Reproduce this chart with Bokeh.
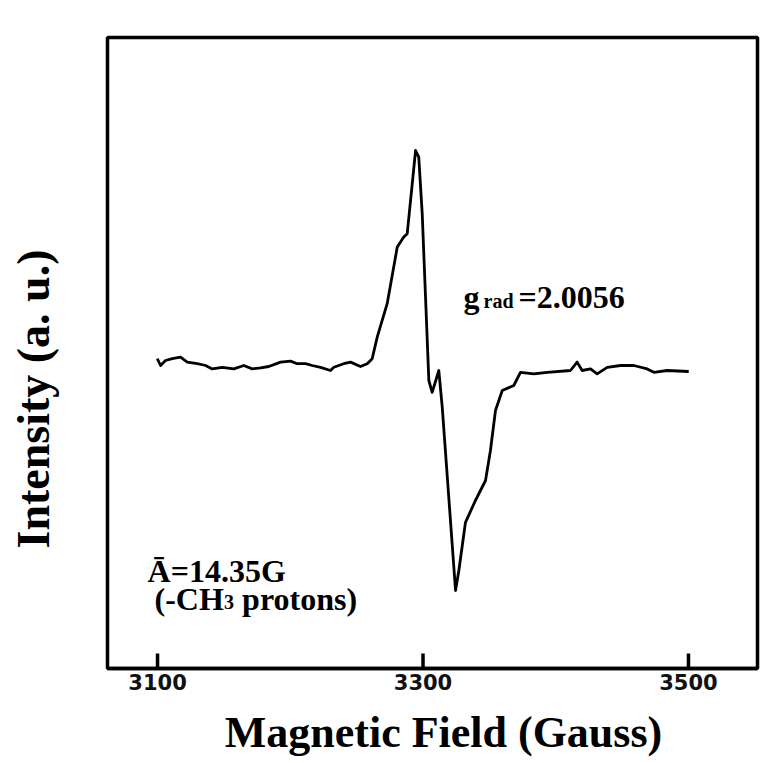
from bokeh.plotting import figure
from bokeh.models import Label, FixedTicker, Range1d, ColumnDataSource
from bokeh.embed import file_html
from bokeh.resources import INLINE

# ---- data ----
field_gauss = [3099.8, 3102.3, 3106.0, 3111.1, 3117.3, 3122.4, 3129.9, 3136.2, 3141.2, 3148.7,
               3157.5, 3165.0, 3171.3, 3177.6, 3183.8, 3192.7, 3200.2, 3205.2, 3211.5, 3216.5,
               3222.8, 3230.3, 3232.8, 3240.3, 3245.4, 3252.9, 3258.0, 3261.7, 3265.5, 3273.0,
               3280.6, 3285.5, 3288.1, 3291.9, 3294.4, 3296.8, 3299.4, 3301.9, 3304.4, 3306.9,
               3311.9, 3314.5, 3324.5, 3327.0, 3332.0, 3339.5, 3347.1, 3350.8, 3354.6, 3359.7,
               3368.4, 3373.4, 3383.5, 3393.6, 3411.1, 3416.1, 3419.9, 3426.2, 3431.2, 3438.8,
               3448.8, 3458.8, 3468.9, 3473.9, 3484.0, 3500.2]
intensity = [0.034, 0.000, 0.025, 0.034, 0.042, 0.017, 0.009, 0.000, -0.017, -0.009,
             -0.017, 0.000, -0.017, -0.012, -0.005, 0.017, 0.022, 0.009, 0.009, 0.000,
             -0.009, -0.025, -0.009, 0.009, 0.017, -0.005, 0.009, 0.034, 0.142, 0.309,
             0.592, 0.642, 0.659, 0.909, 1.075, 1.042, 0.759, 0.342, -0.075, -0.134,
             -0.025, -0.209, -1.125, -1.025, -0.784, -0.675, -0.575, -0.425, -0.225, -0.125,
             -0.100, -0.034, -0.042, -0.034, -0.025, 0.017, -0.025, -0.017, -0.042, -0.009,
             0.000, 0.000, -0.017, -0.034, -0.025, -0.030]
tick_values = [3100, 3300, 3500]
x_label = "Magnetic Field (Gauss)"
y_label = "Intensity (a. u.)"

SERIF = "Liberation Serif"
NBSP = "\u00a0"

x_rng = Range1d(3062.3, 3552.0)
y_rng = Range1d(-1.515, 1.64)
FRAME_H_PX = 631          # frame height in pixels (763 - 37 - 95)
TICK_PX = 15              # inward tick length in pixels

p = figure(width=781, height=763, output_backend="svg", toolbar_location=None,
           x_range=x_rng, y_range=y_rng,
           min_border_left=107, min_border_right=24, min_border_top=37, min_border_bottom=95,
           background_fill_color="white", border_fill_color="white")

p.outline_line_color = "black"
p.outline_line_width = 3.5
p.xgrid.visible = False
p.ygrid.visible = False

# x axis: tick labels below, serif bold title
ax = p.xaxis[0]
ax.ticker = FixedTicker(ticks=tick_values)
ax.axis_line_color = "black"
ax.axis_line_width = 3.5
ax.major_tick_in = 0
ax.major_tick_out = 0
ax.minor_tick_line_color = None
ax.major_label_text_font = "DejaVu Sans"
ax.major_label_text_font_style = "bold"
ax.major_label_text_font_size = "21px"
ax.major_label_text_color = "#111111"
ax.major_label_standoff = 5
ax.axis_label = NBSP * 2 + x_label
ax.axis_label_text_font = SERIF
ax.axis_label_text_font_style = "bold"
ax.axis_label_text_font_size = "44px"
ax.axis_label_text_color = "black"
ax.axis_label_standoff = 15

# inward tick marks drawn at the tick values, from the bottom edge of the frame upward
tick_len = (y_rng.end - y_rng.start) * TICK_PX / FRAME_H_PX
tick_src = ColumnDataSource(dict(xt=tick_values,
                                 yb=[y_rng.start] * len(tick_values),
                                 yt=[y_rng.start + tick_len] * len(tick_values)))
p.segment(x0="xt", y0="yb", x1="xt", y1="yt", source=tick_src,
          line_color="black", line_width=3.5)

# y axis: no ticks, only the title
ay = p.yaxis[0]
ay.ticker = FixedTicker(ticks=[])
ay.axis_line_color = None
ay.major_tick_in = 0
ay.major_tick_out = 0
ay.minor_tick_line_color = None
ay.major_label_standoff = 0
ay.axis_label = y_label + NBSP * 8
ay.axis_label_text_font = SERIF
ay.axis_label_text_font_style = "bold"
ay.axis_label_text_font_size = "46px"
ay.axis_label_text_color = "black"
ay.axis_label_standoff = 49

src = ColumnDataSource(dict(x=field_gauss, y=intensity))
p.line("x", "y", source=src, line_color="black", line_width=2.8, line_join="round")

def lab(x, y, text, size):
    p.add_layout(Label(x=x, y=y, text=text, text_font=SERIF, text_font_style="bold",
                       text_font_size=size, text_color="black", text_align="left",
                       text_baseline="alphabetic"))

# annotations
lab(3330.5, 0.345, "g", "32px")
lab(3345.6, 0.322, "rad", "20px")
lab(3372.0, 0.345, "=2.0056", "32px")
lab(3092.5, -1.025, "\u0100=14.35G", "32px")
lab(3097.7, -1.165, "(-CH", "32px")
lab(3150.1, -1.1825, "3", "20px")
lab(3163.7, -1.165, "protons)", "32px")

open("out.html", "w").write(file_html(p, INLINE))
